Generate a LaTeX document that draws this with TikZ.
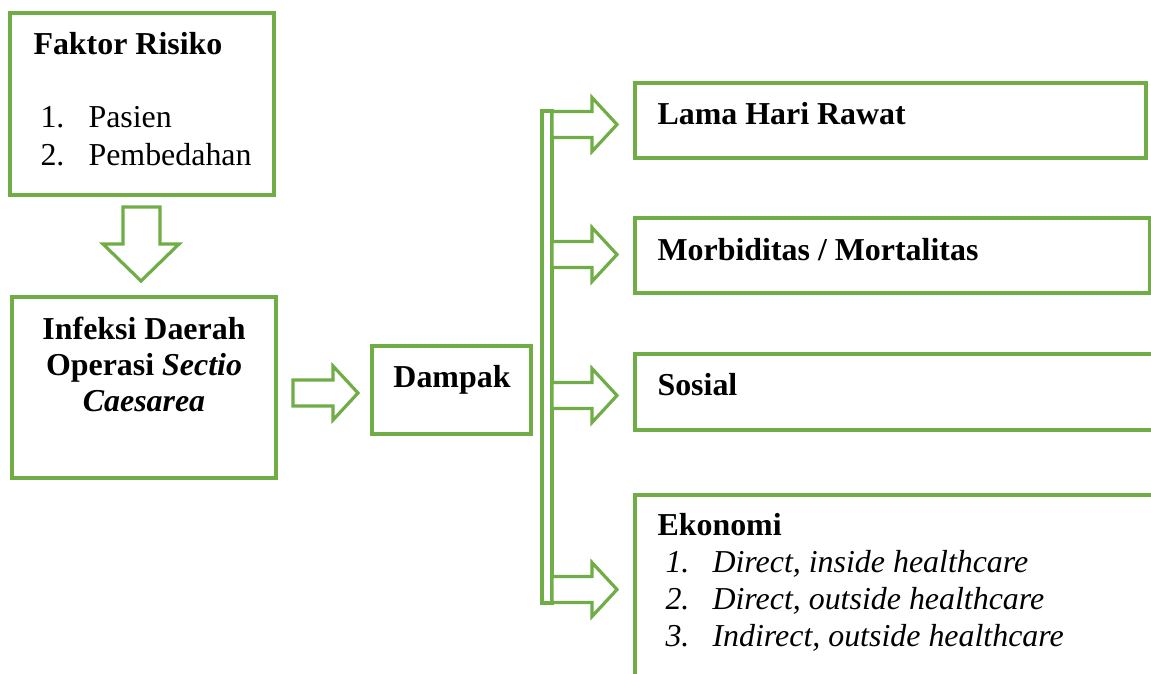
\documentclass[tikz,border=0pt]{standalone}
\usepackage{fontspec}
\setmainfont{Liberation Serif}
\usetikzlibrary{positioning}
\definecolor{kgreen}{RGB}{112,173,71}
\tikzset{box/.style = {draw=kgreen, line width=1.3pt},
         blk/.style = {draw=kgreen, line width=1.2pt, fill=white, line join=miter},
         txt/.style = {anchor=base west, inner sep=0pt,
                       font=\fontsize{12}{14}\selectfont},
         ctxt/.style = {txt, anchor=base}}

\begin{document}
\begin{tikzpicture}[x=0.376pt, y=-0.376pt]
    \useasboundingbox (0,0) rectangle (1151,673);
    \clip (0,0) rectangle (1151,673);
    % boxes
    \draw [box] (10, 13) rectangle (274, 195);
    \draw [box] (12, 297) rectangle (276, 478);
    \draw [box] (372, 346) rectangle (531, 434);
    \draw [box] (635, 83) rectangle (1146, 158);
    \draw [box] (635, 218) rectangle (1150, 293);
    \draw [box] (635, 354) rectangle (1170, 430);
    \draw [box] (635, 495) rectangle (1170, 700);
    % block arrows
    \draw [blk] (123, 207) -- (160, 207) -- (160, 244) -- (179, 244) -- (141, 281) -- (103, 244) -- (123, 244) -- cycle;
    \draw [box] (542, 111) rectangle (552, 603);
    \foreach \x/\y in {293/393, 552/124.5, 552/254.5, 552/395.5, 552/589.5} {
      \draw [blk] (\x, \y-13) -- (\x+40, \y-13) -- (\x+40, \y-27) -- (\x+65, \y) -- (\x+40, \y+27) -- (\x+40, \y+13) -- (\x, \y+13) -- cycle;
    }
    % texts
    \node [txt, font=\fontsize{12}{14}\selectfont\bfseries] (faktor) at (33, 54) {Faktor Risiko};
    \foreach \n/\t [count=\i] in {1./Pasien, 2./Pembedahan} {
      \node [txt] (fnum\i) at (40, 89+38*\i) {\n};
      \node [txt] (fitem\i) at (88, 89+38*\i) {\t};
    }
    \node [ctxt, font=\fontsize{12}{14}\selectfont\bfseries] (infeksi) at (144, 339) {Infeksi Daerah};
    \node [ctxt, font=\fontsize{12}{14}\selectfont\bfseries] (operasi) at (144, 375) {Operasi \textit{Sectio}};
    \node [ctxt, font=\fontsize{12}{14}\selectfont\bfseries\itshape] (caesarea) at (144, 411) {Caesarea};
    \node [ctxt, font=\fontsize{12}{14}\selectfont\bfseries] (dampak) at (452, 387) {Dampak};
    \node [txt, font=\fontsize{12}{14}\selectfont\bfseries] (lama) at (657, 124) {Lama Hari Rawat};
    \node [txt, font=\fontsize{12}{14}\selectfont\bfseries] (morbid) at (657, 260) {Morbiditas / Mortalitas};
    \node [txt, font=\fontsize{12}{14}\selectfont\bfseries] (sosial) at (657, 395) {Sosial};
    \node [txt, font=\fontsize{12}{14}\selectfont\bfseries] (ekonomi) at (657, 535) {Ekonomi};
    \foreach \t [count=\i] in {{Direct, inside healthcare}, {Direct, outside healthcare}, {Indirect, outside healthcare}} {
      \node [txt, font=\fontsize{12}{14}\selectfont\itshape] (enum\i) at (665, 535+37*\i) {\i.};
      \node [txt, font=\fontsize{12}{14}\selectfont\itshape] (eitem\i) at (712, 535+37*\i) {\t};
    }
  \end{tikzpicture}
\end{document}
